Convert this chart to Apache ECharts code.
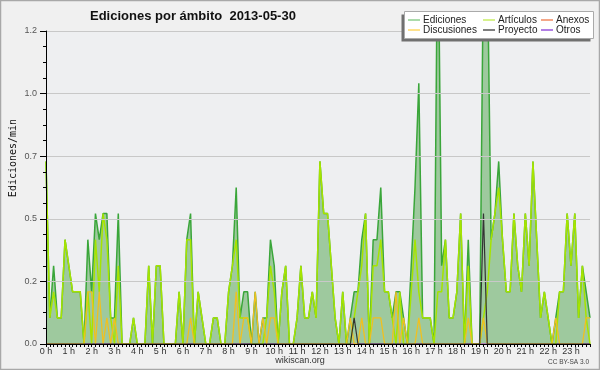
<!DOCTYPE html>
<html><head><meta charset="utf-8">
<script src="https://cdn.jsdelivr.net/npm/echarts@6/dist/echarts.min.js"></script>
<style>html,body{margin:0;padding:0;background:#f0f0f0}#c{width:600px;height:370px}</style>
</head><body><div id="c"></div>
<script>
const hourLabels = ['0 h','1 h','2 h','3 h','4 h','5 h','6 h','7 h','8 h','9 h','10 h','11 h',
  '12 h','13 h','14 h','15 h','16 h','17 h','18 h','19 h','20 h','21 h','22 h','23 h'];
const yTickLabels = ['0.0','0.2','0.5','0.7','1.0','1.2'];
const seriesNames = ['Ediciones','Artículos','Anexos','Discusiones','Proyecto','Otros'];

const ediciones = [
  0.7,0.1,0.3,0.1,0.1,0.4, 0.3,0.2,0.2,0.2,0,0.4,
  0.2,0.5,0.4,0.5,0.5,0.1, 0.1,0.5,0,0,0,0.1,
  0,0,0,0.3,0,0.3, 0.3,0,0,0,0,0.2,
  0,0.4,0.5,0,0.2,0.1, 0,0,0.1,0.1,0,0,
  0.2,0.3,0.6,0.1,0.2,0.2, 0,0.2,0,0.1,0.1,0.4,
  0.3,0,0.2,0.3,0,0, 0.1,0.3,0.1,0.1,0.2,0.1,
  0.7,0.5,0.5,0.3,0.1,0, 0.2,0,0.1,0.2,0.2,0.4,
  0.5,0,0.4,0.4,0.6,0.2, 0.2,0.1,0.2,0.2,0.1,0,
  0.3,0.6,1.0,0.1,0.1,0.1, 0,1.7,0.3,0.4,0.1,0.1,
  0.2,0.5,0,0.4,0,0, 0,1.5,1.5,0.4,0.5,0.7,
  0.4,0.2,0.2,0.5,0.3,0.2, 0.5,0.3,0.7,0.4,0.1,0.2,
  0.1,0,0.1,0.2,0.2,0.5, 0.3,0.5,0.1,0.3,0.2,0.1
];
const articulos = [
  0.7,0.1,0.2,0.1,0.1,0.4, 0.3,0.2,0.2,0.2,0,0.2,
  0,0.4,0.2,0.5,0.4,0.1, 0,0.3,0,0,0,0.1,
  0,0,0,0.3,0,0.3, 0.3,0,0,0,0,0.2,
  0,0.4,0.4,0,0.2,0.1, 0,0,0.1,0.1,0,0,
  0.2,0.3,0.4,0.1,0.1,0.1, 0,0,0,0,0.1,0.3,
  0.2,0,0.2,0.3,0,0, 0.1,0.3,0.1,0.1,0.2,0.1,
  0.7,0.5,0.5,0.3,0.1,0, 0.2,0,0,0.1,0.2,0.3,
  0.5,0,0.3,0.3,0.4,0.2, 0.2,0.1,0,0.2,0,0,
  0.2,0.4,0.2,0.1,0.1,0.1, 0,0.2,0.2,0.4,0.1,0.1,
  0.2,0.5,0,0.3,0,0, 0,0.1,0.2,0.4,0.5,0.6,
  0.4,0.2,0.2,0.5,0.3,0.2, 0.5,0.3,0.7,0.4,0.1,0.2,
  0.1,0,0,0.2,0.2,0.5, 0.3,0.5,0.1,0.3,0.1,0
];
const discusiones = [
  0,0,0,0,0,0, 0,0,0,0,0,0.2,
  0.2,0,0.2,0,0.1,0, 0.1,0,0,0,0,0,
  0,0,0,0,0,0, 0,0,0,0,0,0,
  0,0,0.1,0,0,0, 0,0,0,0,0,0,
  0,0,0.2,0,0.1,0.1, 0,0.2,0,0.1,0,0.1,
  0.1,0,0,0,0,0, 0,0,0,0,0,0,
  0,0,0,0,0,0, 0,0,0.1,0,0,0.1,
  0,0,0.1,0.1,0.1,0, 0,0,0.2,0,0.1,0,
  0,0,0.1,0,0,0, 0,0,0,0,0,0,
  0,0,0,0.1,0,0, 0,0.1,0,0,0,0,
  0,0,0,0,0,0, 0,0,0,0,0,0,
  0,0,0.1,0,0,0, 0,0,0,0,0.1,0.1
];
const proyecto = [
  0,0,0,0,0,0, 0,0,0,0,0,0,
  0,0,0,0,0,0, 0,0,0,0,0,0,
  0,0,0,0,0,0, 0,0,0,0,0,0,
  0,0,0,0,0,0, 0,0,0,0,0,0,
  0,0,0,0,0,0, 0,0,0,0,0,0,
  0,0,0,0,0,0, 0,0,0,0,0,0,
  0,0,0,0,0,0, 0,0,0,0.1,0,0,
  0,0,0,0,0,0, 0,0,0,0,0,0,
  0,0,0,0,0,0, 0,0,0,0,0,0,
  0,0,0,0,0,0, 0,0.5,0,0,0,0,
  0,0,0,0,0,0, 0,0,0,0,0,0,
  0,0,0,0,0,0, 0,0,0,0,0,0
];
const anexos = new Array(144).fill(0);
const otros = new Array(144).fill(0);

const times = ediciones.map((_, i) => {
  const m = i * 10; const h = Math.floor(m / 60), mm = m % 60;
  return (h < 10 ? '0' : '') + h + ':' + (mm < 10 ? '0' : '') + mm;
});

const colors = {Ediciones:'#3aa63a', 'Artículos':'#a6e400', Anexos:'#f08050',
  Discusiones:'#f0c020', Proyecto:'#333333', Otros:'#9955ee'};
const legendColors = {Ediciones:'#8fcf8f', 'Artículos':'#c8ee66', Anexos:'#f08a60',
  Discusiones:'#ffd966', Proyecto:'#555555', Otros:'#9955dd'};

function lineSeries(name, data, width, extra) {
  return Object.assign({
    name, type:'line', data, symbol:'none', animation:false,
    lineStyle:{color:colors[name], width}, itemStyle:{color:colors[name]}
  }, extra || {});
}
function legendCol(names, left) {
  return {
    orient:'vertical', left, top:15, padding:0, itemWidth:12, itemHeight:1.5, itemGap:0,
    icon:'rect', selectedMode:false, z:60,
    textStyle:{fontFamily:'Liberation Sans', fontSize:10, lineHeight:10, color:'#222', padding:[0,0,0,-2]},
    data: names.map(n => ({name:n, itemStyle:{color:legendColors[n]}}))
  };
}

const chart = echarts.init(document.getElementById('c'), null, {renderer:'canvas'});
chart.setOption({
  backgroundColor:'#f0f0f0',
  animation:false,
  title:{text:'Ediciones por ámbito  2013-05-30', left:85, top:5,
    textStyle:{fontFamily:'Liberation Sans', fontWeight:'bold', fontSize:13, color:'#111'}},
  legend:[legendCol(['Ediciones','Discusiones'],408), legendCol(['Artículos','Proyecto'],483), legendCol(['Anexos','Otros'],541)],
  grid:{left:46, right:10, top:31, bottom:26, show:true, backgroundColor:'#eeeff1', borderWidth:0},
  xAxis:{type:'category', data:times, boundaryGap:false, z:10,
    axisLine:{lineStyle:{color:'#000', width:1}},
    axisTick:{show:true, interval:0, length:3, lineStyle:{color:'#000'}},
    axisLabel:{interval:5, margin:3, fontFamily:'Liberation Sans', fontSize:9, color:'#333',
      formatter:(v, idx) => hourLabels[idx / 6] || ''},
    splitLine:{show:false}},
  yAxis:{type:'value', min:0, max:1.2, interval:0.24, z:10,
    axisLine:{show:true, lineStyle:{color:'#000', width:1}},
    axisTick:{show:true, length:6, lineStyle:{color:'#000'}},
    minorTick:{show:true, splitNumber:4, length:3, lineStyle:{color:'#000'}},
    splitLine:{show:true, lineStyle:{color:'#c8c8c8', width:1}},
    axisLabel:{margin:9, fontFamily:'Liberation Sans', fontSize:9, color:'#555',
      formatter:(v) => yTickLabels[Math.round(v / 0.24)] || ''}},
  series:[
    lineSeries('Ediciones', ediciones, 1.5, {areaStyle:{color:'#9ec99e', opacity:1}}),
    lineSeries('Anexos', anexos, 1.2),
    lineSeries('Otros', otros, 1.2),
    lineSeries('Artículos', articulos, 1.5),
    lineSeries('Discusiones', discusiones, 1.3),
    lineSeries('Proyecto', proyecto, 1.2)
  ],
  graphic:[
    {type:'rect', z:50, shape:{x:401.5, y:14.5, width:189, height:27}, style:{fill:'#707070'}},
    {type:'rect', z:51, shape:{x:404.5, y:11.5, width:189, height:27}, style:{fill:'#ffffff', stroke:'#aaaaaa', lineWidth:1}},
    {type:'text', z:20, x:13, y:158, rotation:Math.PI/2,
      style:{text:'Ediciones/min', font:'10px "DejaVu Sans Mono"', fill:'#111', align:'center', verticalAlign:'middle'}},
    {type:'text', z:20, x:300, y:361,
      style:{text:'wikiscan.org', font:'9px "Liberation Sans"', fill:'#333', align:'center', verticalAlign:'middle'}},
    {type:'text', z:20, x:589, y:362,
      style:{text:'CC BY-SA 3.0', font:'6.5px "Liberation Sans"', fill:'#444', align:'right', verticalAlign:'middle'}},
    {type:'rect', z:100, shape:{x:0, y:0, width:600, height:370}, style:{fill:'none', stroke:'#a8a8a8', lineWidth:2.5}}
  ]
});
</script></body></html>
